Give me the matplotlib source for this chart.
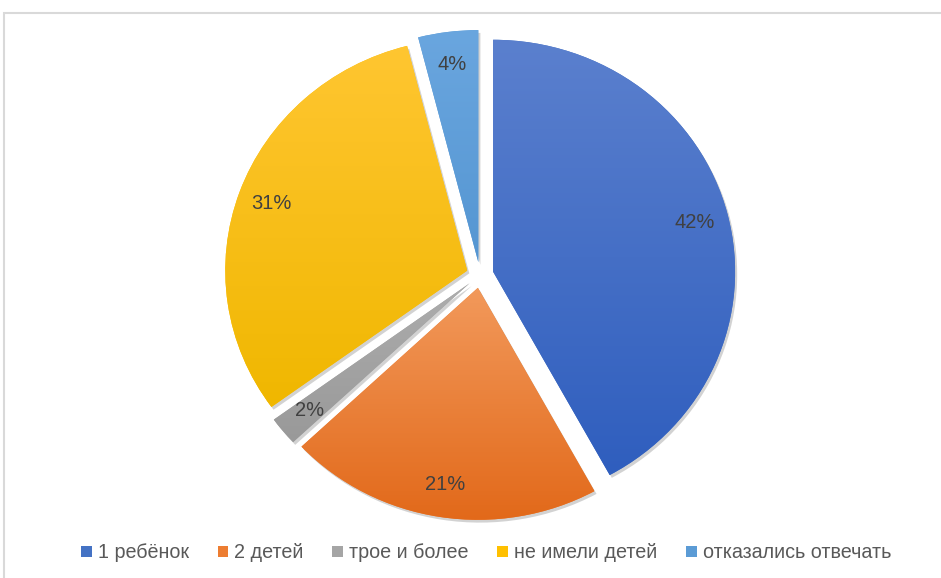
import numpy as np
import matplotlib.pyplot as plt
import matplotlib.patheffects as pe
from matplotlib.colors import to_rgb
from matplotlib.patches import Rectangle

labels = ['1 ребёнок', '2 детей', 'трое и более', 'не имели детей', 'отказались отвечать']
values = [42, 21, 2, 31, 4]
base_colors = ['#4472C4', '#ED7D31', '#A5A5A5', '#FFC000', '#5B9BD5']
top_colors = ['#5B80CE', '#F2995B', '#ADADAD', '#FFC631', '#6AA6DF']
bottom_colors = ['#2F5EBE', '#E2691A', '#999999', '#F0B700', '#5596D2']

W, H = 941, 578
cx, cy, rx, ry = 480, 275, 242, 232

fig = plt.figure(figsize=(W / 100, H / 100), dpi=100)
ax = fig.add_axes([0, 0, 1, 1])

shadow = [pe.SimplePatchShadow(offset=(1.5, -2), shadow_rgbFace='#808080', alpha=0.35), pe.Normal()]
wedges, texts, autotexts = ax.pie(
    values, colors=base_colors, startangle=90, counterclock=False,
    explode=[0.056] * len(values), autopct='%1.0f%%', pctdistance=0.86,
    wedgeprops=dict(linewidth=0, path_effects=shadow),
    textprops=dict(color='#404040', fontsize=14.5, family=['Liberation Sans', 'DejaVu Sans'], zorder=5))

# vertical gradient inside each slice
for w, c1, c2 in zip(wedges, top_colors, bottom_colors):
    ext = w.get_path().get_extents()
    t = np.linspace(0, 1, 256)[:, None]
    grad = (1 - t) * np.array(to_rgb(c1)) + t * np.array(to_rgb(c2))
    grad = grad[:, None, :]
    im = ax.imshow(grad, extent=(ext.x0, ext.x1, ext.y0, ext.y1), origin='upper',
                   aspect='auto', zorder=2, interpolation='bilinear')
    im.set_clip_path(w)

ax.set_xlim(-cx / rx, (W - cx) / rx)
ax.set_ylim(-(H - cy) / ry, cy / ry)
ax.set_aspect('auto')
ax.axis('off')

handles = [Rectangle((0, 0), 1, 1, facecolor=c, edgecolor='none') for c in base_colors]
fig.legend(handles, labels, loc='center', bbox_to_anchor=(486 / W, 1 - 553 / H), ncol=5,
           frameon=False, handlelength=0.55, handleheight=0.55, handletextpad=0.3,
           columnspacing=1.45, prop=dict(family=['Liberation Sans', 'DejaVu Sans'], size=14.2),
           labelcolor='#595959')

fig.patches.append(Rectangle((4 / W, -0.05), 1.1, (H - 13) / H + 0.05, transform=fig.transFigure,
                             fill=False, edgecolor='#D9D9D9', linewidth=1.5))

fig.savefig('out.png', dpi=100)
